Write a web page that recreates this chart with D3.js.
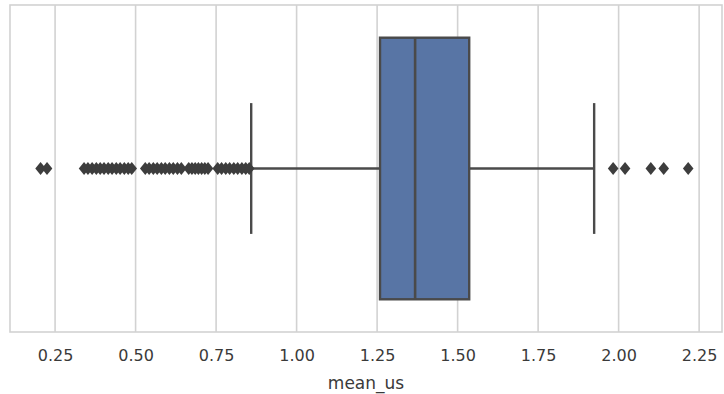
<!DOCTYPE html>
<html>
<head>
<meta charset="utf-8">
<script src="https://cdn.jsdelivr.net/npm/d3@7"></script>
<style>
  html, body { margin: 0; padding: 0; background: #fff; }
  svg { display: block; font-family: "DejaVu Sans", sans-serif; }
</style>
</head>
<body>
<svg id="chart" width="724" height="394"></svg>
<script>
// Summary statistics of mean_us
const boxStats = { whiskerLow: 0.859, q1: 1.259, median: 1.368, q3: 1.536, whiskerHigh: 1.924 };

// Points beyond the whiskers
const outliersLow = [
  0.205, 0.225,
  0.34, 0.352, 0.365, 0.378, 0.39, 0.402, 0.415, 0.427, 0.44, 0.452, 0.465, 0.477, 0.488,
  0.53, 0.542, 0.555, 0.567, 0.58, 0.592, 0.605, 0.617, 0.63, 0.642,
  0.665, 0.675, 0.685, 0.695, 0.705, 0.715, 0.725,
  0.755, 0.767, 0.78, 0.792, 0.805, 0.817, 0.83, 0.842, 0.853
];
const outliersHigh = [1.983, 2.02, 2.10, 2.14, 2.216];

const tickValues = [0.25, 0.50, 0.75, 1.00, 1.25, 1.50, 1.75, 2.00, 2.25];
const xDomain = [0.110, 2.321];
const axisTitle = "mean_us";

const svg = d3.select("#chart");
const plot = { left: 10, right: 722, top: 5, bottom: 332 };

const x = d3.scaleLinear().domain(xDomain).range([plot.left, plot.right]);
// single category band spanning -0.5..0.5
const y = d3.scaleLinear().domain([-0.5, 0.5]).range([plot.top, plot.bottom]);

const gridColor = "#d2d2d2";
const lineColor = "#4a4a4a";
const boxFill = "#5875a5";

// vertical grid lines
svg.append("g")
  .selectAll("line")
  .data(tickValues)
  .join("line")
  .attr("x1", d => x(d)).attr("x2", d => x(d))
  .attr("y1", plot.top).attr("y2", plot.bottom)
  .attr("stroke", gridColor)
  .attr("stroke-width", 1.6);

// axes frame
svg.append("rect")
  .attr("x", plot.left).attr("y", plot.top)
  .attr("width", plot.right - plot.left)
  .attr("height", plot.bottom - plot.top)
  .attr("fill", "none")
  .attr("stroke", gridColor)
  .attr("stroke-width", 1.6);

// tick labels via d3 axis
const axis = d3.axisBottom(x)
  .tickValues(tickValues)
  .tickFormat(d3.format(".2f"))
  .tickSize(0)
  .tickPadding(18);
const axisG = svg.append("g")
  .attr("transform", `translate(0,${plot.bottom})`)
  .call(axis);
axisG.select(".domain").remove();
axisG.selectAll("text")
  .attr("fill", "#3a3a3a")
  .style("font-size", "16px")
  .style("font-family", "\"DejaVu Sans\", sans-serif");

svg.append("text")
  .attr("x", (plot.left + plot.right) / 2)
  .attr("y", 389)
  .attr("text-anchor", "middle")
  .attr("fill", "#3a3a3a")
  .style("font-size", "17px")
  .text(axisTitle);

const boxHalf = 0.4, capHalf = 0.2;
const g = svg.append("g");

// whiskers
g.selectAll("line.whisker")
  .data([[boxStats.whiskerLow, boxStats.q1], [boxStats.q3, boxStats.whiskerHigh]])
  .join("line")
  .attr("class", "whisker")
  .attr("x1", d => x(d[0])).attr("x2", d => x(d[1]))
  .attr("y1", y(0)).attr("y2", y(0))
  .attr("stroke", lineColor).attr("stroke-width", 2.4);

// caps
g.selectAll("line.cap")
  .data([boxStats.whiskerLow, boxStats.whiskerHigh])
  .join("line")
  .attr("class", "cap")
  .attr("x1", d => x(d)).attr("x2", d => x(d))
  .attr("y1", y(-capHalf)).attr("y2", y(capHalf))
  .attr("stroke", lineColor).attr("stroke-width", 2.4);

// box
g.append("rect")
  .attr("x", x(boxStats.q1))
  .attr("y", y(-boxHalf))
  .attr("width", x(boxStats.q3) - x(boxStats.q1))
  .attr("height", y(boxHalf) - y(-boxHalf))
  .attr("fill", boxFill)
  .attr("stroke", lineColor)
  .attr("stroke-width", 2.4);

// median
g.append("line")
  .attr("x1", x(boxStats.median)).attr("x2", x(boxStats.median))
  .attr("y1", y(-boxHalf)).attr("y2", y(boxHalf))
  .attr("stroke", lineColor).attr("stroke-width", 2.6);

// outlier diamonds
const diamond = "M0,-6.5 L5.3,0 L0,6.5 L-5.3,0 Z";
g.selectAll("path.flier")
  .data(outliersLow.concat(outliersHigh))
  .join("path")
  .attr("class", "flier")
  .attr("d", diamond)
  .attr("transform", d => `translate(${x(d)},${y(0)})`)
  .attr("fill", "#3d3d3d");
</script>
</body>
</html>
